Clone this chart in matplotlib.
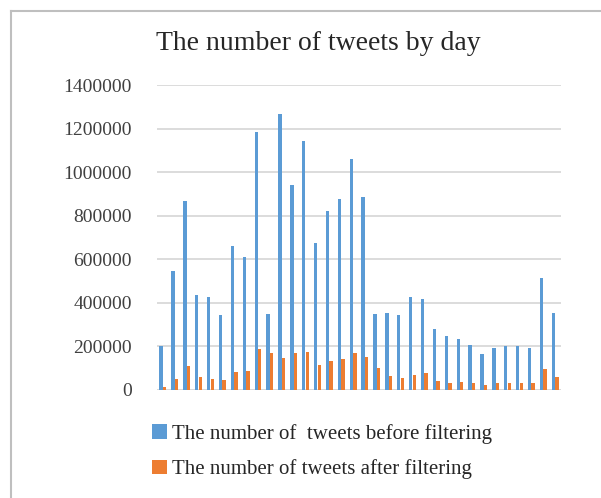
import numpy as np
import matplotlib
matplotlib.use('Agg')
import matplotlib.pyplot as plt
from matplotlib.lines import Line2D

days = np.arange(1, 35)
before = [202000, 544000, 867000, 436000, 427000, 344000, 659000, 609000,
          1182000, 349000, 1265000, 940000, 1144000, 674000, 821000, 875000,
          1060000, 884000, 349000, 353000, 343000, 428000, 416000, 278000,
          249000, 235000, 205000, 166000, 195000, 202000, 203000, 195000,
          514000, 352000]
after = [12000, 52000, 110000, 58000, 52000, 46000, 81000, 86000,
         188000, 168000, 145000, 168000, 176000, 113000, 132000, 141000,
         168000, 151000, 101000, 63000, 55000, 67000, 76000, 43000,
         34000, 37000, 34000, 25000, 31000, 31000, 32000, 32000,
         98000, 58000]
yticks = [0, 200000, 400000, 600000, 800000, 1000000, 1200000, 1400000]

serif = ['Liberation Serif', 'DejaVu Serif']
W, H = 601, 498
fig = plt.figure(figsize=(W / 100, H / 100), dpi=100)
ax = fig.add_axes([157 / W, 1 - 390 / H, 404 / W, 305 / H])

x = np.arange(len(days))
bw = 0.28
ax.bar(x - 0.15, before, width=bw, color='#5B9BD5',
       label='The number of  tweets before filtering', zorder=3)
ax.bar(x + 0.15, after, width=bw, color='#ED7D31',
       label='The number of tweets after filtering', zorder=3)

ax.set_xlim(-0.5, len(days) - 0.5)
ax.set_ylim(0, 1400000)
ax.set_yticks(yticks)
ax.set_yticklabels([str(v) for v in yticks], family=serif, fontsize=14,
                   color='#404040')
ax.set_xticks([])
ax.grid(axis='y', color='#D9D9D9', linewidth=1.3, zorder=0)
ax.tick_params(axis='y', length=0, pad=18)
for s in ax.spines.values():
    s.set_visible(False)
ax.axhline(0, color='#D9D9D9', linewidth=1.3, zorder=2)

fig.text(318 / W, 1 - 44 / H, 'The number of tweets by day', family=serif,
         fontsize=20, color='#262626', ha='center', va='center')

leg = fig.legend(loc='upper left', bbox_to_anchor=(152 / W, 1 - 424 / H),
                 frameon=False, prop={'family': serif, 'size': 15},
                 handlelength=0.7, handleheight=0.7, handletextpad=0.25,
                 labelspacing=0.75, borderaxespad=0, borderpad=0)
for t in leg.get_texts():
    t.set_color('#262626')

# chart frame (cropped at right and bottom)
fig.add_artist(Line2D([11 / W, 11 / W], [0, 1 - 11 / H], color='#BFBFBF',
                      linewidth=1.5, transform=fig.transFigure))
fig.add_artist(Line2D([11 / W, 1], [1 - 11 / H, 1 - 11 / H], color='#BFBFBF',
                      linewidth=1.5, transform=fig.transFigure))

fig.savefig('out.png', dpi=100)
